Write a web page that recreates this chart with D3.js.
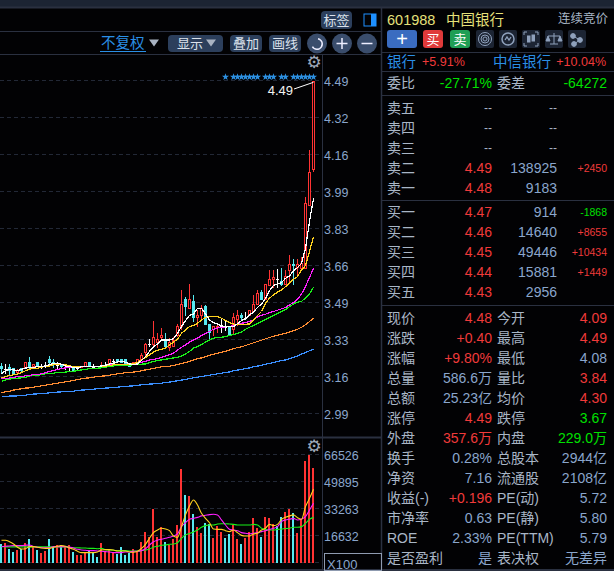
<!DOCTYPE html>
<html><head><meta charset="utf-8">
<style>html,body{margin:0;padding:0;background:#020204;overflow:hidden}svg{display:block}
text{font-family:"Liberation Sans","Noto Sans CJK SC",sans-serif}</style>
<script src="https://cdn.jsdelivr.net/npm/d3@7/dist/d3.min.js"></script></head><body><svg id="c" width="614" height="571"></svg>
<script>
const open_=[3.208,3.196,3.205,3.198,3.175,3.198,3.195,3.225,3.205,3.225,3.208,3.213,3.241,3.225,3.214,3.214,3.204,3.202,3.205,3.198,3.202,3.205,3.225,3.205,3.208,3.205,3.214,3.213,3.23,3.24,3.24,3.24,3.219,3.21,3.213,3.235,3.265,3.307,3.303,3.31,3.334,3.328,3.288,3.295,3.343,3.382,3.51,3.465,3.501,3.423,3.431,3.478,3.398,3.371,3.378,3.389,3.383,3.383,3.368,3.416,3.438,3.426,3.431,3.453,3.483,3.539,3.503,3.57,3.596,3.599,3.591,3.573,3.636,3.668,3.648,3.644,3.646,3.93,4.09];
const close_=[3.196,3.196,3.187,3.172,3.19,3.185,3.225,3.204,3.216,3.205,3.208,3.213,3.22,3.214,3.214,3.202,3.204,3.202,3.187,3.198,3.208,3.225,3.205,3.205,3.202,3.211,3.214,3.238,3.23,3.225,3.22,3.217,3.205,3.225,3.238,3.258,3.307,3.307,3.337,3.328,3.348,3.294,3.315,3.325,3.388,3.487,3.475,3.508,3.423,3.438,3.468,3.393,3.356,3.386,3.389,3.389,3.383,3.348,3.428,3.438,3.423,3.426,3.458,3.488,3.536,3.506,3.576,3.6,3.608,3.599,3.573,3.615,3.666,3.656,3.666,3.671,3.941,4.08,4.49];
const high_=[3.223,3.216,3.216,3.198,3.193,3.2,3.225,3.247,3.216,3.225,3.216,3.225,3.253,3.238,3.225,3.217,3.213,3.213,3.205,3.202,3.208,3.225,3.225,3.217,3.208,3.225,3.225,3.238,3.24,3.24,3.24,3.24,3.219,3.225,3.238,3.265,3.31,3.33,3.412,3.355,3.378,3.355,3.333,3.34,3.397,3.55,3.52,3.577,3.528,3.46,3.483,3.483,3.398,3.389,3.393,3.423,3.416,3.389,3.446,3.461,3.446,3.453,3.461,3.528,3.551,3.548,3.576,3.641,3.641,3.644,3.648,3.641,3.708,3.689,3.689,3.698,3.968,4.18,4.49];
const low_=[3.172,3.172,3.168,3.168,3.172,3.181,3.195,3.196,3.205,3.205,3.196,3.2,3.214,3.2,3.196,3.199,3.19,3.187,3.187,3.185,3.202,3.205,3.205,3.202,3.202,3.205,3.205,3.213,3.216,3.225,3.22,3.217,3.205,3.21,3.213,3.235,3.247,3.292,3.288,3.288,3.318,3.291,3.276,3.292,3.34,3.37,3.435,3.465,3.408,3.385,3.416,3.393,3.326,3.341,3.356,3.356,3.363,3.345,3.348,3.386,3.411,3.416,3.431,3.453,3.483,3.503,3.503,3.566,3.558,3.558,3.569,3.573,3.588,3.573,3.611,3.641,3.646,3.93,4.08];
const ma5=[3.172,3.187,3.193,3.19,3.187,3.193,3.198,3.202,3.202,3.204,3.205,3.208,3.213,3.219,3.22,3.216,3.208,3.204,3.202,3.2,3.204,3.205,3.207,3.207,3.205,3.208,3.211,3.217,3.22,3.226,3.228,3.225,3.217,3.214,3.217,3.232,3.25,3.273,3.295,3.307,3.325,3.325,3.325,3.33,3.355,3.385,3.412,3.435,3.442,3.468,3.468,3.442,3.415,3.403,3.397,3.388,3.385,3.385,3.385,3.399,3.412,3.42,3.438,3.45,3.472,3.486,3.513,3.547,3.571,3.577,3.583,3.603,3.613,3.637,3.651,3.67,3.738,3.858,3.963];
const ma10=[3.153,3.16,3.165,3.168,3.171,3.178,3.186,3.193,3.196,3.198,3.202,3.205,3.208,3.213,3.213,3.213,3.213,3.208,3.205,3.204,3.204,3.205,3.205,3.205,3.205,3.205,3.207,3.21,3.213,3.214,3.214,3.214,3.216,3.219,3.223,3.235,3.246,3.258,3.27,3.279,3.283,3.288,3.303,3.315,3.328,3.355,3.37,3.385,3.39,3.4,3.415,3.426,3.43,3.43,3.43,3.423,3.412,3.403,3.397,3.393,3.396,3.396,3.397,3.415,3.435,3.453,3.49,3.513,3.528,3.54,3.55,3.565,3.58,3.598,3.61,3.64,3.66,3.723,3.79];
const ma20=[3.15,3.153,3.153,3.157,3.159,3.159,3.163,3.166,3.168,3.169,3.172,3.177,3.183,3.187,3.192,3.196,3.199,3.202,3.205,3.205,3.205,3.205,3.204,3.204,3.205,3.208,3.21,3.213,3.214,3.214,3.216,3.216,3.216,3.219,3.22,3.225,3.229,3.235,3.237,3.241,3.247,3.253,3.259,3.265,3.28,3.292,3.303,3.315,3.325,3.333,3.345,3.354,3.364,3.373,3.379,3.381,3.384,3.385,3.39,3.396,3.4,3.403,3.408,3.415,3.429,3.436,3.441,3.448,3.453,3.459,3.465,3.471,3.483,3.493,3.508,3.532,3.565,3.607,3.648];
const ma30=[3.139,3.145,3.148,3.151,3.153,3.154,3.157,3.163,3.163,3.166,3.168,3.172,3.174,3.175,3.178,3.18,3.18,3.183,3.184,3.187,3.19,3.193,3.195,3.198,3.198,3.199,3.202,3.205,3.208,3.21,3.21,3.211,3.211,3.213,3.213,3.216,3.217,3.222,3.228,3.232,3.235,3.238,3.241,3.244,3.247,3.253,3.262,3.273,3.288,3.295,3.304,3.316,3.325,3.333,3.336,3.337,3.34,3.345,3.349,3.355,3.36,3.373,3.382,3.39,3.399,3.408,3.417,3.426,3.435,3.444,3.453,3.462,3.475,3.487,3.495,3.499,3.513,3.532,3.562];
const ma60=[3.088,3.091,3.094,3.099,3.102,3.105,3.108,3.109,3.112,3.115,3.118,3.121,3.124,3.127,3.13,3.133,3.136,3.139,3.142,3.147,3.15,3.153,3.154,3.157,3.16,3.162,3.163,3.166,3.169,3.172,3.175,3.177,3.178,3.18,3.183,3.186,3.19,3.193,3.196,3.201,3.204,3.205,3.207,3.21,3.214,3.219,3.223,3.229,3.235,3.241,3.244,3.249,3.255,3.261,3.265,3.27,3.274,3.279,3.285,3.291,3.294,3.3,3.306,3.312,3.318,3.324,3.33,3.336,3.342,3.346,3.351,3.355,3.361,3.367,3.373,3.382,3.394,3.408,3.423];
const ma120=[3.07,3.07,3.072,3.072,3.073,3.075,3.076,3.079,3.081,3.082,3.082,3.084,3.087,3.088,3.09,3.091,3.093,3.094,3.094,3.097,3.099,3.1,3.102,3.103,3.105,3.106,3.108,3.109,3.111,3.112,3.114,3.115,3.117,3.118,3.12,3.123,3.124,3.126,3.127,3.129,3.13,3.133,3.135,3.138,3.141,3.144,3.147,3.151,3.154,3.157,3.16,3.163,3.166,3.169,3.172,3.175,3.178,3.181,3.186,3.189,3.192,3.196,3.199,3.204,3.207,3.211,3.216,3.219,3.223,3.228,3.232,3.235,3.241,3.247,3.253,3.261,3.268,3.276,3.283];
const volume=[11900,12300,8800,7200,8200,8600,12300,15000,10300,8200,6200,7600,15000,9900,11100,11300,10900,11300,7200,5100,5100,7200,8200,7200,4100,12500,7200,8600,6800,5700,10300,5100,6200,8800,7200,13300,19300,16400,33500,16400,22400,13300,11300,15000,23600,58100,42100,41500,30400,22600,18900,25000,24200,15800,23000,19500,15800,17900,23600,15000,11900,15400,19100,27900,21600,16400,28500,27900,24200,23200,28500,31800,33500,31200,18900,27100,63000,66700,58700];
const volMa5=[14200,14200,13300,11900,9900,8800,9000,10300,10300,9900,9400,9200,9200,9900,10500,10900,10500,9400,8600,7400,6600,6600,6600,6600,7000,8200,8400,8400,8200,7600,7600,7600,7000,6800,7400,9200,11700,15400,18900,20500,21600,21100,20100,16800,16000,22600,29800,35300,39000,35900,30800,27700,25000,21100,20900,20900,20100,19500,20500,18900,17200,16800,16800,18100,18500,20500,21600,24000,23200,24000,27100,28300,29200,29800,28100,27100,34900,40000,45600];
const volMa10=[10300,10500,10700,10900,10900,10900,11100,11300,10300,9900,9600,9600,9600,10300,10300,10300,10300,9900,9400,8600,8200,8000,7800,7800,7600,7400,7200,7000,6600,6600,6600,7000,7000,7400,7400,7800,9000,11300,13300,14200,14800,15400,16000,16800,18100,22600,25000,27100,27700,28300,29200,29600,30000,30200,29800,26700,23600,20900,20500,20100,18900,18500,18100,18500,18900,19500,20100,20900,21600,22600,25700,26700,27100,27700,26700,27300,28700,32800,37000];
const volMa20=[10300,10100,10100,10100,10100,10100,10100,10100,10100,10100,10100,10100,10100,10100,10100,10100,10100,9900,9600,9600,9400,9400,9200,9200,9000,9200,8400,8200,8000,7800,7800,7800,7600,7600,7600,7800,8200,8800,9900,10500,11100,11300,11700,11900,12700,15400,17500,18300,19300,20500,22200,23200,23600,23600,24200,24400,24400,24200,24000,23600,23600,23600,23600,24000,23600,21600,20900,20500,20500,20900,21100,21400,21600,22200,22200,22600,24600,27100,28300];
const flatButDownVolume=[23,56,69];
const starIndex=[56,58,59,60,61,62,63,64,66,67,68,70,71,73,74,75,76,77,78];
const priceTicks=[4.49,4.323,4.157,3.99,3.823,3.657,3.49,3.323,3.157,2.99];
const priceTickLabels=["4.49","4.32","4.16","3.99","3.83","3.66","3.49","3.33","3.16","2.99"];
const volumeTicks=[66526,49895,33263,16632];
const lastPrice=4.49;
const topTabs=["标签"];
const toolButtons=["叠加","画线"];
const askRows=[["卖五","--","--",""],["卖四","--","--",""],["卖三","--","--",""],["卖二","4.49","138925","+2450"],["卖一","4.48","9183",""]];
const bidRows=[["买一","4.47","914","-1868"],["买二","4.46","14640","+8655"],["买三","4.45","49446","+10434"],["买四","4.44","15881","+1449"],["买五","4.43","2956",""]];
const statRows=[
["现价","4.48","r","今开","4.09","r"],["涨跌","+0.40","r","最高","4.49","r"],["涨幅","+9.80%","r","最低","4.08","b"],
["总量","586.6万","b","量比","3.84","r"],["总额","25.23亿","b","均价","4.30","r"],["涨停","4.49","r","跌停","3.67","g"],
["外盘","357.6万","r","内盘","229.0万","g"],["换手","0.28%","b","总股本","2944亿","b"],["净资","7.16","b","流通股","2108亿","b"],
["收益(-)","+0.196","r","PE(动)","5.72","b"],["市净率","0.63","b","PE(静)","5.80","b"],["ROE","2.33%","b","PE(TTM)","5.79","b"],["是否盈利","是","b","表决权","无差异","b"]];

const RED="#ff3333",CY="#57e9f0",LBL="#a9b6c6",NUM="#8aa6cc",GRN="#00e000",TXTR="#f03a3a",BLUE="#2a8fe6",LINE="#2a3040",BTN="#2c3f5c";
const col={r:TXTR,b:NUM,g:GRN};
const svg=d3.select("#c");
const n=open_.length;
const x=d3.scaleLinear().domain([0,n-1]).range([1.5,313.5]);
const y=d3.scaleLinear().domain([2.99,4.49]).range([414.3,81.3]);
const yv=d3.scaleLinear().domain([0,66526]).range([563.3,455.3]);
const px=v=>Math.round(v)+0.5;
const idx=d3.range(n);

// frame
svg.append("rect").attr("width",614).attr("height",571).attr("fill","#020204");
svg.append("rect").attr("width",614).attr("height",7).attr("fill","#1c2433");
const hl=(x1,x2,yy,w)=>svg.append("line").attr("x1",x1).attr("x2",x2).attr("y1",yy).attr("y2",yy).attr("stroke",LINE).attr("stroke-width",w||1);
const vl=(xx,y1,y2,w)=>svg.append("line").attr("x1",xx).attr("x2",xx).attr("y1",y1).attr("y2",y2).attr("stroke",LINE).attr("stroke-width",w||1);
hl(0,614,7.5,2);hl(0,381,31.5);hl(0,381,54.5);hl(0,381,437.5,2);hl(0,614,570,2);
vl(322.5,54,570);vl(381.5,8,571,1.5);
hl(382,614,52.5);hl(382,614,71.5);hl(382,614,95.5);hl(382,614,200.5);hl(382,614,305.5);

// grids + axes
const grid=svg.append("g").attr("stroke","#222836").attr("stroke-dasharray","4,3");
grid.selectAll(".p").data(priceTicks).join("line").attr("x1",0).attr("x2",321).attr("y1",d=>px(y(d))-1).attr("y2",d=>px(y(d))-1);
grid.selectAll(".v").data(volumeTicks.concat([0])).join("line").attr("x1",0).attr("x2",321).attr("y1",d=>px(yv(d))-1).attr("y2",d=>px(yv(d))-1);
const pa=svg.append("g").attr("transform","translate(323,0)").call(d3.axisRight(y).tickValues(priceTicks).tickSize(0).tickPadding(1).tickFormat((d,i)=>priceTickLabels[i]));
const va=svg.append("g").attr("transform","translate(323,0)").call(d3.axisRight(yv).tickValues(volumeTicks).tickSize(0).tickPadding(1).tickFormat(d3.format("d")));
[pa,va].forEach(a=>{a.select(".domain").remove();a.selectAll("text").attr("fill",NUM).style("font-size","12.5px").style("font-family",'"Liberation Sans",sans-serif');});

// candles
const cg=svg.append("g").attr("shape-rendering","crispEdges");
idx.forEach(i=>{
 const o=open_[i],c=close_[i],cx=x(i);
 const kind=c>o?"u":c<o?"d":"f";
 const color=kind=="u"?RED:kind=="d"?CY:"#ffffff";
 const t=Math.round(y(Math.max(o,c))),b=Math.round(y(Math.min(o,c)));
 cg.append("line").attr("x1",cx).attr("x2",cx).attr("y1",Math.round(y(high_[i]))).attr("y2",t).attr("stroke",color);
 cg.append("line").attr("x1",cx).attr("x2",cx).attr("y1",b).attr("y2",Math.round(y(low_[i]))).attr("stroke",color);
 if(kind=="u") cg.append("rect").attr("x",cx-1).attr("y",t+.5).attr("width",2).attr("height",Math.max(1,b-t-1)).attr("fill","#020204").attr("stroke",color);
 else if(kind=="d") cg.append("rect").attr("x",cx-1.5).attr("y",t).attr("width",3).attr("height",Math.max(1,b-t)).attr("fill",color);
 else cg.append("rect").attr("x",cx-1.5).attr("y",t).attr("width",3).attr("height",1).attr("fill",color);
});
// MA lines
const line=d3.line().x((d,i)=>x(i)).y(d=>y(d));
[[ma120,"#3b8fff"],[ma60,"#ff8c32"],[ma30,"#19f019"],[ma20,"#ff1fff"],[ma10,"#ffd21f"],[ma5,"#ffffff"]].forEach(([s,c])=>
 svg.append("path").attr("d",line(s)).attr("fill","none").attr("stroke",c).attr("stroke-width",1.2).attr("shape-rendering","crispEdges"));

// event markers along the top of the price panel
svg.selectAll(".star").data(starIndex).join("path").attr("d",d3.symbol(d3.symbolStar,16)()).attr("transform",d=>`translate(${x(d)},77)`).attr("fill","#2c8fe0");

// volume
svg.append("g").attr("shape-rendering","crispEdges").selectAll("rect").data(volume).join("rect")
 .attr("x",(d,i)=>x(i)-1.5).attr("width",2).attr("y",d=>yv(d)).attr("height",d=>yv(0)-yv(d))
 .attr("fill",(d,i)=>(close_[i]<open_[i]||flatButDownVolume.includes(i))?CY:RED);
const vline=d3.line().x((d,i)=>x(i)).y(d=>yv(d)).curve(d3.curveMonotoneX);
[[volMa20,"#19f019"],[volMa10,"#ff1fff"],[volMa5,"#ffd21f"]].forEach(([s,c])=>
 svg.append("path").attr("d",vline(s)).attr("fill","none").attr("stroke",c).attr("stroke-width",1.1));

// callout
svg.append("line").attr("x1",294).attr("y1",89).attr("x2",x(n-1)).attr("y2",y(lastPrice)+1).attr("stroke","#fff");
const T=(xx,yy,s,fill,size,anchor)=>svg.append("text").attr("x",xx).attr("y",yy).attr("fill",fill).attr("dominant-baseline","central").style("font-size",(size||14)+"px").attr("text-anchor",anchor||"start").text(s);
T(293,90,lastPrice.toFixed(2),"#f2f2f2",13,"end");

// gears
[[314,62],[314,446]].forEach(p=>T(p[0],p[1],"⚙","#a0aaba",17,"middle").style("font-family","DejaVu Sans"));

// toolbar buttons
const btn=(x0,y0,w,h,label,fs)=>{svg.append("rect").attr("x",x0).attr("y",y0).attr("width",w).attr("height",h).attr("rx",4).attr("fill",BTN);
 if(label)T(x0+w/2,y0+h/2,label,"#dbe2ec",fs||13,"middle");};
btn(321,11,31,18,topTabs[0],13);
svg.append("rect").attr("x",364).attr("y",14).attr("width",12).attr("height",12).attr("fill","none").attr("stroke","#1e90ff");
svg.append("rect").attr("x",371).attr("y",14).attr("width",5).attr("height",12).attr("fill","#1e90ff");
T(101,43,"不复权",BLUE,14.5);
svg.append("line").attr("x1",100).attr("x2",146).attr("y1",51.5).attr("y2",51.5).attr("stroke",BLUE);
const tri=(cx,cy,s,c)=>svg.append("path").attr("d",d3.line()([[cx-s,cy-s*.7],[cx+s,cy-s*.7],[cx,cy+s*.7]])+"Z").attr("fill",c);
tri(154,43,5,"#a9b3c2");
btn(168,35,55,17);T(177,43,"显示","#dbe2ec",13);tri(211,43,5,"#a9b3c2");
btn(230,35,32,17,toolButtons[0]);btn(269,35,32,17,toolButtons[1]);
[317,342,367].forEach(c=>svg.append("circle").attr("cx",c).attr("cy",43.5).attr("r",10).attr("fill","#3a4d6c"));
svg.append("path").attr("d",d3.arc()({innerRadius:4.5,outerRadius:6,startAngle:0.2,endAngle:4.2})).attr("transform","translate(317,44)").attr("fill","#eef");
svg.append("path").attr("d","M342 38V49M336.5 43.5H347.5M361.5 43.5H372.5").attr("stroke","#eef").attr("stroke-width",1.5);

// x100
svg.append("rect").attr("x",324.5).attr("y",553.5).attr("width",57).attr("height",17).attr("fill","none").attr("stroke","#8f9bb0");
T(327,564,"X100",NUM,13);

// right panel heading
T(387,20,"601988","#e6e07a",14.5);
T(446,20,"中国银行","#e6e07a",14.5);
T(608,19,"连续竞价",LBL,12.5,"end");
const side=(x0,w,fill,label)=>{svg.append("rect").attr("x",x0).attr("y",30).attr("width",w).attr("height",18).attr("rx",3).attr("fill",fill);T(x0+w/2,39,label,"#fff",label=="+"?20:13,"middle");};
side(387,30,"#3a6cc0","+");side(423,20,"#e03a3a","买");side(450,20,"#1f9e55","卖");
const IC="#8fa1bc";
[476,499,522,545,568].forEach((a,i)=>{
 svg.append("rect").attr("x",a).attr("y",30).attr("width",18).attr("height",18).attr("rx",2).attr("fill","#1c2433");
 const g=svg.append("g").attr("transform",`translate(${a+9},39)`).attr("stroke",IC).attr("fill","none");
 if(i==0)[2,4,6.5].forEach(r=>g.append("circle").attr("r",r));
 if(i==1){g.append("circle").attr("r",6).attr("stroke-width",1.5);g.append("path").attr("d","M-3 1L-1 -2L1 1L3 -2").attr("stroke-width",1.3);}
 if(i==2){g.append("path").attr("d","M-7 -4V-7H-4M4 -7H7V-4M7 4V7H4M-4 7H-7V4");g.append("rect").attr("x",-3.5).attr("y",-3).attr("width",2.5).attr("height",6).attr("fill",IC);g.append("rect").attr("x",1).attr("y",-4).attr("width",2.5).attr("height",6).attr("fill",IC);}
 if(i==3){g.append("path").attr("d","M0 -6V5M-4 5H4M-6 -3H6M-6 -3L-8 2H-4ZM6 -3L4 2H8Z").attr("fill",IC);}
 if(i==4){[[-4,-3],[3,1],[-3,5]].forEach(p=>g.append("circle").attr("cx",p[0]).attr("cy",p[1]).attr("r",2.4).attr("fill",IC));g.append("path").attr("d","M-4 -3L3 1L-3 5");}
});
T(387,62,"银行",BLUE,14.5);T(422,62,"+5.91%",TXTR,12.5);T(493,62,"中信银行",BLUE,14.5);T(606,62,"+10.04%",TXTR,12.5,"end");
T(387,83,"委比",LBL,14);T(492,83,"-27.71%",GRN,14,"end");T(497,83,"委差",LBL,14);T(607,83,"-64272",GRN,14,"end");
const book=(rows,y0)=>rows.forEach((r,i)=>{const yy=y0+i*20;T(387,yy,r[0],LBL,14);
 T(492,yy,r[1],r[1]=="--"?LBL:TXTR,r[1]=="--"?12:14,"end");T(557,yy,r[2],r[2]=="--"?LBL:NUM,r[2]=="--"?12:14,"end");
 if(r[3])T(607,yy,r[3],r[3][0]=="-"?GRN:TXTR,10.5,"end");});
book(askRows,108);book(bidRows,212);
statRows.forEach((r,i)=>{const yy=318+i*20;
 T(387,yy,r[0],LBL,14);T(492,yy,r[1],col[r[2]],14,"end");T(497,yy,r[3],LBL,14);T(607,yy,r[4],col[r[5]],14,"end");});
</script></body></html>
